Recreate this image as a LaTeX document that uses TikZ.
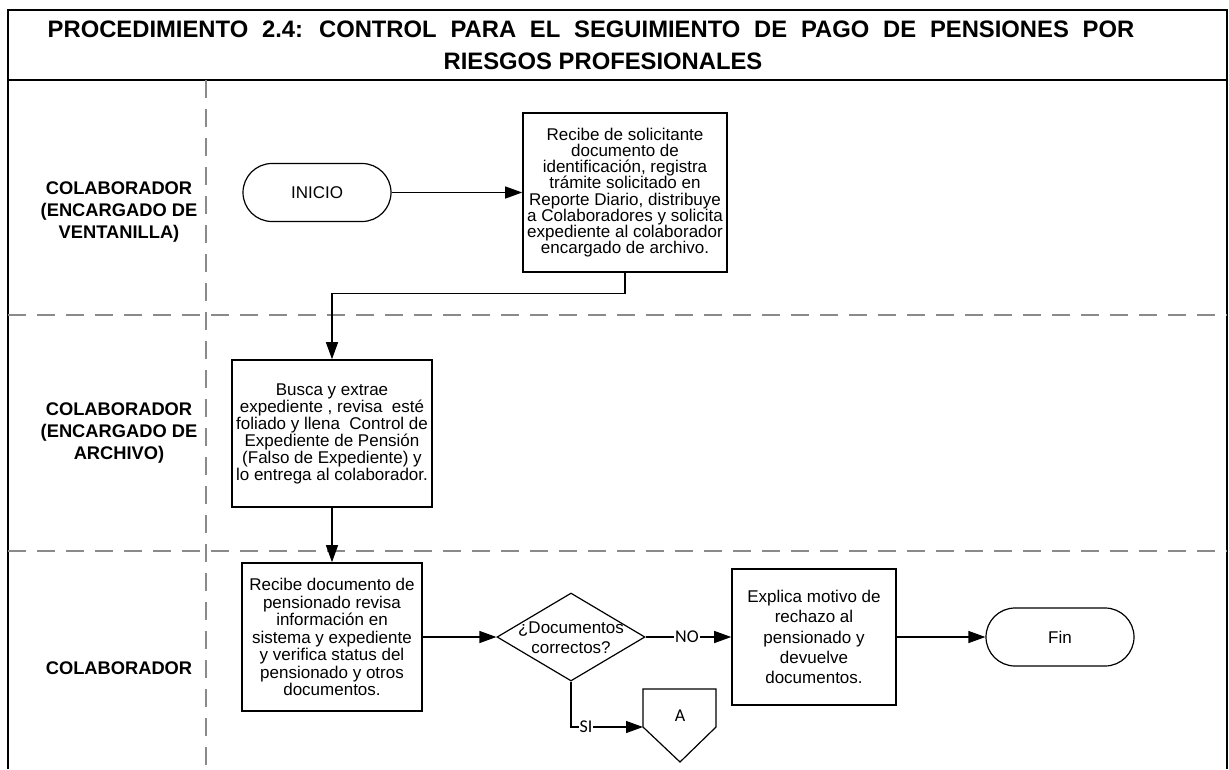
\documentclass[tikz,border=0pt]{standalone}
\usepackage{fontspec}
\setmainfont{Liberation Sans}
\newfontfamily\carl{Carlito}
\usetikzlibrary{arrows.meta,shapes.geometric}
\definecolor{lanegray}{HTML}{8A8A8A}
\tikzset{
  frameline/.style={line width=2.6pt,black},
  lanesep/.style={line width=2.4pt,lanegray,dash pattern=on 18pt off 11pt},
  conn/.style={line width=1.2pt,black},
  arr/.style={conn,-{Triangle[length=17pt,width=12pt]}},
  body/.style={font=\fontsize{17}{17}\selectfont,align=center},
  proc/.style={body,draw,line width=1.6pt,inner sep=0pt},
  term/.style={body,draw,line width=1.2pt,minimum width=148pt,minimum height=58pt,rounded corners=29pt,inner sep=0pt},
  decision/.style={diamond,draw,line width=1.2pt,minimum width=148pt,minimum height=88pt,inner sep=0pt},
  lanelabel/.style={font=\fontsize{18.3}{22}\selectfont\bfseries,align=center},
  titletext/.style={font=\fontsize{23.8}{30}\selectfont\bfseries,anchor=base},
  branchlabel/.style={font=\carl\fontsize{18}{18}\selectfont,fill=white,inner sep=1pt}
}
\begin{document}
\begin{tikzpicture}[x=1pt,y=-1pt]
\useasboundingbox (0,0) rectangle (1229,769);
% frame
\draw[frameline] (8,769) -- (8,10) -- (1227,10) -- (1227,769);
\draw[line width=2.4pt] (8,80) -- (1227,80);
% lanes
\draw[lanesep] (8,315) -- (1227,315);
\draw[lanesep] (8,551) -- (1227,551);
\draw[lanesep] (206,80) -- (206,769);
% title
\node[titletext] (t1) at (591,37) {\spaceskip=13.8pt PROCEDIMIENTO 2.4: CONTROL PARA EL SEGUIMIENTO DE PAGO DE PENSIONES POR};
\node[titletext] (t2) at (603,69) {RIESGOS PROFESIONALES};
% lane labels
\node[lanelabel] (l1) at (119,212) {COLABORADOR\\(ENCARGADO DE\\VENTANILLA)};
\node[lanelabel] (l2) at (119,433) {COLABORADOR\\(ENCARGADO DE\\ARCHIVO)};
\node[lanelabel] (l3) at (119,668) {COLABORADOR};
% nodes
\node[term] (ini) at (317,192.5) {INICIO};
\node[proc,minimum width=204pt,minimum height=159pt,font=\fontsize{17}{16.2}\selectfont] (b1) at (625,192.5) {Recibe de solicitante\\documento de\\identificación, registra\\trámite solicitado en\\Reporte Diario, distribuye\\a Colaboradores y solicita\\expediente al colaborador\\encargado de archivo.};
\node[proc,minimum width=200pt,minimum height=147pt,font=\fontsize{17}{17}\selectfont] (b2) at (332,433.5) {Busca y extrae\\expediente , revisa\ \ esté\\foliado y llena\ \ Control de\\Expediente de Pensión\\(Falso de Expediente) y\\lo entrega al colaborador.};
\node[proc,minimum width=180pt,minimum height=148pt,font=\fontsize{17}{17.5}\selectfont] (b3) at (332,637) {Recibe documento de\\pensionado revisa\\información en\\sistema y expediente\\y verifica status del\\pensionado y otros\\documentos.};
\node[decision] (d) at (571,637) {};
\node[body,font=\fontsize{17}{20}\selectfont] (dt) at (571,638) {¿Documentos\\correctos?};
\node[proc,minimum width=164pt,minimum height=136pt,font=\fontsize{17}{20.4}\selectfont] (b4) at (814,637) {Explica motivo de\\rechazo al\\pensionado y\\devuelve\\documentos.};
\node[term] (fin) at (1060,637) {Fin};
% off-page connector
\coordinate (Ain) at (643,727);
\draw[line width=1.2pt,line join=miter] (643,689) -- (716,689) -- (716,727) -- (680,762) -- (643,727) -- cycle;
\node[font=\carl\fontsize{18}{18}\selectfont] (A) at (680,716) {A};
% connectors
\draw[arr] (ini.east) -- (b1.west);
\draw[arr] (b1.south) -- ++(0,21) -| (b2.north);
\draw[arr] (b2.south) -- (b3.north);
\draw[arr] (b3.east) -- (d.west);
\draw[arr] (d.east) -- (b4.west);
\node[branchlabel] (no) at (687,637) {NO};
\draw[arr] (b4.east) -- (fin.west);
\draw[arr] (d.south) |- (Ain);
\node[branchlabel] (si) at (586,727) {SI};
\end{tikzpicture}
\end{document}
